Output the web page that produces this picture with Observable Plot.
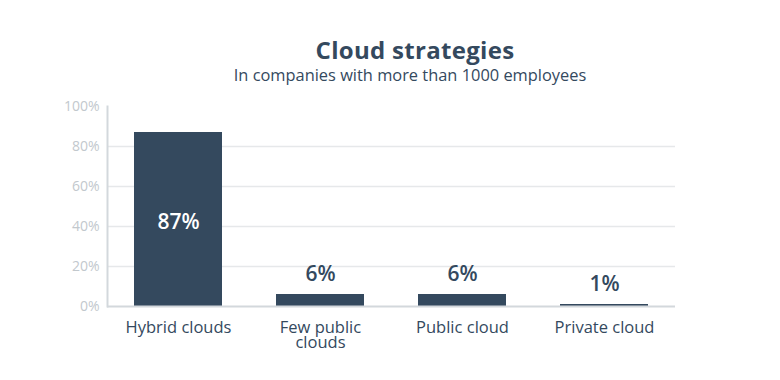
<!DOCTYPE html>
<html>
<head>
<meta charset="utf-8">
<script src="https://cdn.jsdelivr.net/npm/d3@7"></script>
<script src="https://cdn.jsdelivr.net/npm/@observablehq/plot@0.6"></script>
<style>
  html, body { margin: 0; padding: 0; background: #fff; }
  #wrap { position: relative; width: 780px; height: 380px; overflow: hidden; font-family: "Open Sans", sans-serif; }
  #title { position: absolute; left: 0; width: 830px; top: 35px; text-align: center; font-size: 24px; font-weight: 700; color: #34495e; line-height: 30px; letter-spacing: 0.3px; }
  #subtitle { position: absolute; left: 0; width: 820px; top: 65px; text-align: center; font-size: 16.4px; font-weight: 400; color: #34495e; line-height: 20px; }
  #chart { position: absolute; left: 0; top: 90px; }
</style>
</head>
<body>
<div id="wrap">
  <div id="title">Cloud strategies</div>
  <div id="subtitle">In companies with more than 1000 employees</div>
  <div id="chart"></div>
</div>
<script>
const categories = ["Hybrid clouds", "Few public\nclouds", "Public cloud", "Private cloud"];
const values = [87, 6, 6, 1];
const yTicks = [0, 20, 40, 60, 80, 100];
const gridTicks = [20, 40, 60, 80];

const data = categories.map((c, i) => ({category: c, value: values[i]}));
const inside = data.filter(d => d.value >= 20);
const outside = data.filter(d => d.value < 20);

const barColor = "#34495e";

const chart = Plot.plot({
  width: 780,
  height: 290,
  marginLeft: 107,
  marginRight: 105,
  marginTop: 16,
  marginBottom: 74,
  style: {fontFamily: "Open Sans, sans-serif", background: "transparent"},
  x: {domain: categories, paddingInner: 0.38, paddingOuter: 0.19, label: null},
  y: {domain: [0, 100], label: null},
  marks: [
    Plot.ruleY(gridTicks, {stroke: "#e6e8ea", strokeWidth: 1.5}),
    Plot.barY(data, {x: "category", y: "value", fill: barColor}),
    Plot.ruleY([0], {stroke: "#d3d8dc", strokeWidth: 2}),
    Plot.frame({anchor: "left", stroke: "#d3d8dc", strokeWidth: 2}),
    Plot.axisY({ticks: yTicks, tickSize: 0, tickPadding: 8, tickFormat: d => d + "%", fontSize: 14, fill: "#c2c8cd", label: null}),
    Plot.axisX({tickSize: 0, tickPadding: 15, fontSize: 16.5, fill: "#34495e", lineHeight: 0.95, label: null}),
    Plot.text(inside, {x: "category", y: d => d.value / 2, text: d => d.value + "%", fill: "#ffffff", fontSize: 21, fontWeight: 600, dy: 3}),
    Plot.text(outside, {x: "category", y: "value", text: d => d.value + "%", fill: "#34495e", fontSize: 21, fontWeight: 600, dy: -20})
  ]
});
document.getElementById("chart").appendChild(chart);
</script>
</body>
</html>
